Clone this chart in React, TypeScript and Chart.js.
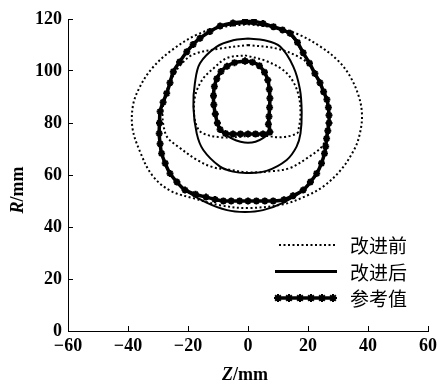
import { useEffect, useRef } from 'react';
import { Chart, registerables } from 'chart.js';

Chart.register(...registerables);

// ---- axis ticks ----
const zTicks = [-60, -40, -20, 0, 20, 40, 60];
const rTicks = [0, 20, 40, 60, 80, 100, 120];

// ---- legend labels ----
const seriesNames = ['改进前', '改进后', '参考值'];

// ---- 改进前 (before improvement) : dotted contours ----
const beforeOuterZ = [0, 10, 17, 24, 30, 34, 37, 38, 37.3, 35.5, 31, 25, 19.5, 12, 0, -9, -18, -26, -32, -36, -38.5, -38.3, -36, -32, -26, -17, -9, 0];
const beforeOuterR = [118, 116.5, 114, 109.5, 104, 98, 90, 83, 76, 70, 62, 55.5, 52, 48.8, 47.3, 48.3, 51, 54, 60, 69, 78, 87, 94, 101, 107.5, 114, 116.8, 118];

const beforeMidZ = [0, 10, 18.3, 22, 25, 26.5, 26.5, 25, 19.7, 14, 8.3, 0, -6, -11.7, -17, -22.7, -26.7, -28, -28.5, -27.5, -25, -22, -18, -10, 0];
const beforeMidR = [110, 108.5, 104.5, 100, 93, 86, 78, 71.5, 66.5, 62.7, 61.5, 61, 62, 63, 65.8, 70.4, 74.2, 78, 84, 91, 98, 103, 106.5, 108.5, 110];

const beforeInnerZ = [-1, 5.7, 11.7, 15, 17, 17.5, 17, 16.3, 11, 6.3, 0, -5, -9.3, -15, -17, -18, -17.5, -15, -11.5, -7, -1];
const beforeInnerR = [106, 104, 100.4, 96, 90, 83, 78.5, 76, 74.5, 75, 75, 74.5, 74.5, 76, 78.5, 84, 91, 97, 101, 105, 106];

// ---- 改进后 (after improvement) : solid contours ----
const afterOuterZ = [-1, 8.5, 14, 18.4, 22.3, 25.2, 26.8, 27, 26.2, 25.5, 22.9, 18.4, 12, 5, -1, -7, -14, -21, -26, -28.8, -29.6, -29.3, -27.1, -24.9, -20.4, -16, -9.3, -1];
const afterOuterR = [118.5, 116.8, 114, 106.8, 99, 92, 86, 80, 74, 68.3, 60.6, 54.2, 49.5, 46.5, 45.8, 46.5, 49.5, 54.2, 60.6, 68.3, 76, 84.4, 91.4, 99.7, 107.4, 112.6, 117, 118.5];

const afterMidZ = [0, 5.5, 10.7, 15.1, 17.3, 17.9, 17.5, 16.2, 12.9, 6.2, 0, -5, -9.3, -14.9, -17.1, -18.2, -17.7, -16, -10.4, -5, 0];
const afterMidR = [112.5, 111.8, 109.4, 101.7, 93, 84, 76, 70.9, 65.8, 61.6, 60.8, 61.3, 63.2, 69.6, 76, 86.3, 95.3, 103, 109.4, 111.8, 112.5];

const afterInnerZ = [-1, 3.8, 6.6, 7.3, 7, 7.3, 5, 2.5, 0, -2.5, -5, -8, -10.2, -11.4, -11.2, -9, -4.5, -1];
const afterInnerR = [103.8, 102, 96.5, 89.5, 82.5, 76.5, 74.2, 72.8, 72.4, 72.8, 73.8, 76, 80, 87, 94, 99.8, 103.2, 103.8];

// ---- 参考值 (reference) : marker contours ----
const refOuterZ = [-1, 2, 5, 8.5, 11.5, 14, 16.5, 18.4, 20.5, 22.3, 24, 25.2, 26.3, 26.8, 27, 27, 26.6, 26.2, 25.9, 25.5, 24.5, 22.9, 20.8, 18.4, 15, 12, 8.4, 5.6, 2.8, 0, -2.8, -5.6, -8.2, -11, -14, -17.5, -21, -23.7, -26, -27.6, -28.8, -29.3, -29.6, -29.5, -29.3, -28.3, -27.1, -26, -24.9, -22.8, -20.4, -18.3, -16, -12.7, -9.3, -5, -1];
const refOuterR = [119, 119, 118.3, 117, 115.8, 114.5, 111, 107, 103, 99, 95.5, 92, 89, 86, 83, 80, 77, 74, 71, 68.3, 64.5, 60.6, 57.3, 54.2, 52, 50.5, 50, 50, 50, 50, 50, 50, 50, 50.6, 51.5, 52.6, 54.2, 57.3, 60.6, 64.5, 68.3, 72, 76, 80, 84.4, 88, 91.4, 95.5, 99.7, 103.5, 107.4, 110.2, 112.6, 115.2, 117.3, 118.5, 119];

const refInnerZ = [-1, 1.5, 3.8, 5.5, 6.6, 7.1, 7.3, 7.2, 7, 6.8, 7.3, 5, 2.5, 0, -2.5, -5, -7.5, -9.3, -10.2, -10.9, -11.4, -11.5, -11.2, -10.4, -9, -7, -4.5, -1];
const refInnerR = [103.8, 103.4, 102, 99.5, 96.5, 93, 89.5, 86, 82.5, 79.5, 76.5, 75.8, 75.8, 75.8, 75.8, 75.8, 76, 77.5, 80, 83.5, 87, 90.5, 94, 97, 99.8, 101.8, 103.2, 103.8];

const SERIF = '"Liberation Serif", "Times New Roman", serif';
const CJK = '"Noto Sans CJK SC", "Noto Sans CJK JP", sans-serif';
const DOT_DASH = [2, 2.5];

const zip = (zs: number[], rs: number[]) => zs.map((z, i) => ({ x: z, y: rs[i] }));

const fmt = (v: number) => (v < 0 ? '\u2212' + Math.abs(v) : String(v));

function drawStar(ctx: CanvasRenderingContext2D, x: number, y: number, r: number) {
  ctx.beginPath();
  for (let k = 0; k < 4; k++) {
    const a = (k * Math.PI) / 4;
    ctx.moveTo(x + Math.cos(a) * r, y + Math.sin(a) * r);
    ctx.lineTo(x - Math.cos(a) * r, y - Math.sin(a) * r);
  }
  ctx.stroke();
}

const innerLegend = {
  id: 'innerLegend',
  afterDraw(chart: any) {
    const ctx: CanvasRenderingContext2D = chart.ctx;
    const rows = [245, 271.5, 298];
    const x0 = 277;
    const x1 = 337;
    ctx.save();
    ctx.strokeStyle = '#000';
    ctx.fillStyle = '#000';
    // dotted
    ctx.setLineDash(DOT_DASH);
    ctx.lineWidth = 2;
    ctx.beginPath();
    ctx.moveTo(x0 + 2, rows[0]);
    ctx.lineTo(x1, rows[0]);
    ctx.stroke();
    ctx.setLineDash([]);
    // solid
    ctx.lineWidth = 3;
    ctx.beginPath();
    ctx.moveTo(x0 - 2, rows[1]);
    ctx.lineTo(x1, rows[1]);
    ctx.stroke();
    // markers
    ctx.lineWidth = 3.5;
    ctx.beginPath();
    ctx.moveTo(x0 - 2, rows[2]);
    ctx.lineTo(x1 - 2, rows[2]);
    ctx.stroke();
    ctx.lineWidth = 2;
    for (let k = 0; k < 6; k++) {
      drawStar(ctx, x0 + 1 + k * 11, rows[2], 4);
    }
    // texts
    ctx.font = `19px ${CJK}`;
    ctx.textAlign = 'left';
    ctx.textBaseline = 'middle';
    seriesNames.forEach((n, i) => ctx.fillText(n, 350, rows[i] + 1));
    ctx.restore();
  },
};

const axisTitles = {
  id: 'axisTitles',
  afterDraw(chart: any) {
    const ctx: CanvasRenderingContext2D = chart.ctx;
    ctx.save();
    ctx.fillStyle = '#000';
    ctx.textBaseline = 'alphabetic';
    const italic = `italic bold 18px ${SERIF}`;
    const normal = `bold 18px ${SERIF}`;
    // x title
    {
      ctx.font = italic;
      const w1 = ctx.measureText('Z').width;
      ctx.font = normal;
      const w2 = ctx.measureText('/mm').width;
      const start = 245 - (w1 + w2) / 2;
      ctx.textAlign = 'left';
      ctx.font = italic;
      ctx.fillText('Z', start, 380);
      ctx.font = normal;
      ctx.fillText('/mm', start + w1, 380);
    }
    // y title
    {
      ctx.font = italic;
      const w1 = ctx.measureText('R').width;
      ctx.font = normal;
      const w2 = ctx.measureText('/mm').width;
      ctx.translate(23, 190);
      ctx.rotate(-Math.PI / 2);
      const start = -(w1 + w2) / 2;
      ctx.textAlign = 'left';
      ctx.font = italic;
      ctx.fillText('R', start, 0);
      ctx.font = normal;
      ctx.fillText('/mm', start + w1, 0);
    }
    ctx.restore();
  },
};

export default function App() {
  const ref = useRef<HTMLCanvasElement | null>(null);

  useEffect(() => {
    document.body.style.margin = '0';
    const canvas = ref.current;
    if (!canvas) return;

    const dotted = (data: any) => ({
      data,
      showLine: true,
      borderColor: '#000',
      borderWidth: 2,
      borderDash: DOT_DASH,
      pointRadius: 0,
      tension: 0.35,
      order: 3,
    });
    const solid = (data: any) => ({
      data,
      showLine: true,
      borderColor: '#000',
      borderWidth: 2,
      pointRadius: 0,
      tension: 0.35,
      order: 2,
    });
    const marked = (data: any) => ({
      data,
      showLine: true,
      borderColor: '#000',
      borderWidth: 3.5,
      pointStyle: 'star',
      pointRadius: 3.5,
      pointBorderWidth: 2,
      pointBorderColor: '#000',
      pointBackgroundColor: '#000',
      tension: 0.3,
      order: 1,
    });

    const chart = new Chart(canvas, {
      type: 'scatter',
      data: {
        datasets: [
          { label: seriesNames[0], ...dotted(zip(beforeOuterZ, beforeOuterR)) },
          { label: seriesNames[0], ...dotted(zip(beforeMidZ, beforeMidR)) },
          { label: seriesNames[0], ...dotted(zip(beforeInnerZ, beforeInnerR)) },
          { label: seriesNames[1], ...solid(zip(afterOuterZ, afterOuterR)) },
          { label: seriesNames[1], ...solid(zip(afterMidZ, afterMidR)) },
          { label: seriesNames[1], ...solid(zip(afterInnerZ, afterInnerR)) },
          { label: seriesNames[2], ...marked(zip(refOuterZ, refOuterR)) },
          { label: seriesNames[2], ...marked(zip(refInnerZ, refInnerR)) },
        ] as any,
      },
      options: {
        responsive: false,
        animation: false,
        layout: { padding: { top: 19, right: 12, left: 0, bottom: 0 } },
        plugins: {
          legend: { display: false },
          tooltip: { enabled: false },
        },
        scales: {
          x: {
            type: 'linear',
            min: zTicks[0],
            max: zTicks[zTicks.length - 1],
            afterBuildTicks: (s: any) => {
              s.ticks = zTicks.map((v) => ({ value: v }));
            },
            ticks: {
              color: '#000',
              font: { family: SERIF, size: 18, weight: 'bold' },
              padding: 10,
              maxRotation: 0,
              autoSkip: false,
              callback: (v: any) => fmt(Number(v)),
            },
            grid: {
              display: true,
              drawOnChartArea: false,
              drawTicks: true,
              tickLength: -5,
              color: '#000',
              lineWidth: 1,
            },
            border: { display: true, color: '#000', width: 1 },
            afterFit: (s: any) => {
              s.height = 52;
              s.paddingLeft = 0;
              s.paddingRight = 0;
            },
          },
          y: {
            type: 'linear',
            min: rTicks[0],
            max: rTicks[rTicks.length - 1],
            afterBuildTicks: (s: any) => {
              s.ticks = rTicks.map((v) => ({ value: v }));
            },
            ticks: {
              color: '#000',
              font: { family: SERIF, size: 18, weight: 'bold' },
              padding: 11,
              autoSkip: false,
              callback: (v: any) => fmt(Number(v)),
            },
            grid: {
              display: true,
              drawOnChartArea: false,
              drawTicks: true,
              tickLength: -5,
              color: '#000',
              lineWidth: 1,
            },
            border: { display: true, color: '#000', width: 1 },
            afterFit: (s: any) => {
              s.width = 68;
              s.paddingTop = 0;
              s.paddingBottom = 0;
            },
          },
        },
      } as any,
      plugins: [innerLegend, axisTitles],
    });

    return () => chart.destroy();
  }, []);

  return (
    <div style={{ width: 440, height: 383, background: '#fff' }}>
      <canvas ref={ref} width={440} height={383} style={{ display: 'block' }} />
    </div>
  );
}
